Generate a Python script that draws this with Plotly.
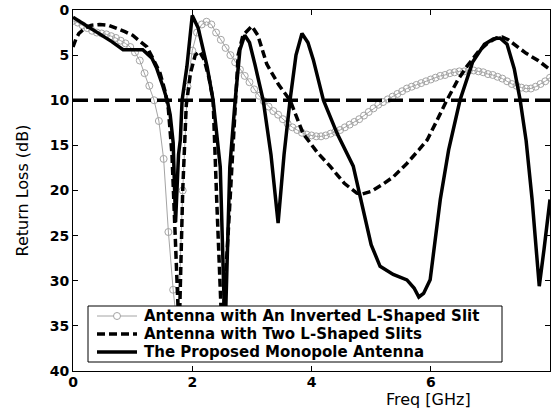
import plotly.graph_objects as go

# ---------------- data ----------------
# Antenna with An Inverted L-Shaped Slit (grey, circle markers)
f_inv = [round(0.08 * i, 2) for i in range(101)]
rl_inv = [1.2, 1.4, 1.7, 2.0, 2.3, 2.5, 2.6, 2.7, 2.9, 3.1,
          3.4, 3.7, 4.1, 4.7, 5.6, 7.0, 8.4, 10.0, 12.3, 16.5,
          24.6, 31.0, 36.0, 20.0, 8.5, 4.5, 2.5, 1.6, 1.3, 1.6,
          2.5, 3.3, 4.2, 5.0, 5.8, 6.6, 7.3, 8.0, 8.8, 9.5,
          10.1, 10.7, 11.2, 11.6, 12.1, 12.6, 13.0, 13.3, 13.6, 13.8,
          13.9, 14.0, 14.0, 13.9, 13.7, 13.5, 13.3, 13.0, 12.7, 12.4,
          12.1, 11.7, 11.3, 10.9, 10.5, 10.2, 9.9, 9.6, 9.3, 9.0,
          8.7, 8.5, 8.3, 8.1, 7.9, 7.7, 7.5, 7.3, 7.2, 7.0,
          6.9, 6.8, 6.8, 6.7, 6.7, 6.8, 6.9, 7.1, 7.2, 7.4,
          7.6, 7.9, 8.2, 8.4, 8.6, 8.7, 8.7, 8.5, 8.2, 7.9,
          7.5]

# Antenna with Two L-Shaped Slits (black dashed)
f_two = [0.0, 0.05, 0.1, 0.2, 0.3, 0.45, 0.6, 0.73, 0.87, 1.0, 1.12, 1.24, 1.35,
         1.46, 1.54, 1.6, 1.66, 1.72, 1.78, 1.84, 1.9, 1.97, 2.05, 2.12,
         2.2, 2.28, 2.35, 2.41, 2.5, 2.6, 2.69, 2.72, 2.77, 2.85, 3.0,
         3.1, 3.25, 3.45, 3.64, 3.86, 4.1, 4.31, 4.55, 4.76, 4.85, 5.0,
         5.2, 5.37, 5.6, 5.8, 5.94, 6.1, 6.27, 6.45, 6.6, 6.8, 6.95,
         7.1, 7.2, 7.3, 7.45, 7.6, 7.8, 7.95, 8.0]
rl_two = [4.1, 3.2, 2.6, 2.0, 1.7, 1.6, 1.7, 2.0, 2.4, 2.8, 3.4, 4.1, 5.5,
          7.0, 8.9, 11.0, 16.0, 25.0, 36.0, 20.0, 10.5, 7.0, 5.0, 4.6,
          5.5, 7.5, 10.0, 21.0, 36.0, 25.0, 14.0, 10.0, 5.0, 2.8, 1.8,
          2.8, 6.0, 8.3, 10.0, 13.7, 15.8, 17.3, 19.2, 20.3, 20.4, 20.1,
          19.3, 18.5, 17.0, 15.5, 14.4, 12.3, 10.0, 7.8, 6.3, 4.6, 3.7,
          3.1, 3.0, 3.3, 4.1, 4.8, 5.6, 6.3, 6.6]

# The Proposed Monopole Antenna (black solid)
f_prop = [0.0, 0.2, 0.45, 0.65, 0.84, 1.0, 1.17, 1.32, 1.4, 1.51, 1.58, 1.63,
          1.68, 1.72, 1.77, 1.8, 1.83, 1.91, 2.0, 2.1, 2.25, 2.35, 2.47,
          2.55, 2.63, 2.72, 2.8, 2.88, 2.96, 3.05, 3.19, 3.32, 3.44, 3.54,
          3.64, 3.74, 3.84, 3.94, 4.03, 4.2, 4.43, 4.7, 4.85, 5.0, 5.15,
          5.37, 5.6, 5.72, 5.8, 5.88, 5.99, 6.16, 6.3, 6.49, 6.7, 6.9,
          7.05, 7.16, 7.28, 7.4, 7.5, 7.6, 7.7, 7.82, 7.9, 8.0]
rl_prop = [0.8, 1.6, 2.6, 3.5, 4.4, 4.4, 4.4, 5.3, 6.4, 8.5, 10.0, 11.6,
           14.7, 23.5, 16.0, 14.4, 10.0, 6.3, 0.6, 2.0, 6.3, 10.0, 17.4,
           36.0, 17.4, 10.0, 4.4, 2.8, 3.6, 6.0, 10.0, 16.0, 23.6, 16.0,
           10.0, 5.0, 2.6, 3.6, 5.5, 10.0, 13.7, 17.3, 21.5, 26.0, 28.4,
           29.3, 29.9, 30.8, 31.8, 31.4, 29.9, 21.0, 15.5, 10.0, 5.8, 3.8,
           3.2, 3.1, 3.8, 6.5, 10.0, 14.5, 21.0, 30.6, 26.5, 21.0]

# -10 dB reference line
f_ref = [0.0, 8.0]
rl_ref = [10.0, 10.0]

x_ticks = [0, 2, 4, 6, 8]
y_ticks = [0, 5, 10, 15, 20, 25, 30, 35, 40]

names = ["Antenna with An Inverted L-Shaped Slit",
         "Antenna with Two L-Shaped Slits",
         "The Proposed Monopole Antenna"]

GREY = "#a4a4a4"

# ---------------- figure ----------------
fig = go.Figure()
fig.add_trace(go.Scatter(
    x=f_inv, y=rl_inv, mode="lines+markers", name=names[0],
    line=dict(color=GREY, width=1),
    marker=dict(symbol="circle-open", size=7, color=GREY,
                line=dict(width=1, color=GREY))))
fig.add_trace(go.Scatter(
    x=f_two, y=rl_two, mode="lines", name=names[1],
    line=dict(color="black", width=3.5, dash="8px,4px")))
fig.add_trace(go.Scatter(
    x=f_prop, y=rl_prop, mode="lines", name=names[2],
    line=dict(color="black", width=3.5)))
fig.add_trace(go.Scatter(
    x=f_ref, y=rl_ref, mode="lines", showlegend=False,
    line=dict(color="black", width=3.5, dash="15px,6px")))

PL, PR, PT, PB = 73, 2, 10, 38
W, H = 552, 409
pw, ph = W - PL - PR, H - PT - PB


def px_x(px):
    return (px - PL) / pw


def px_y(py):
    return (H - PB - py) / ph


tickfont = dict(family="DejaVu Sans", size=14, color="black", weight="bold")
legfont = dict(family="DejaVu Sans", size=15, color="black", weight="bold")

# ---- legend drawn as a box (shapes + text) ----
box = dict(x0=88, x1=502, y0=306, y1=362)
rows = [316, 334, 352]
shapes = [dict(type="rect", xref="paper", yref="paper", layer="above",
               x0=px_x(box["x0"]), x1=px_x(box["x1"]),
               y0=px_y(box["y1"]), y1=px_y(box["y0"]),
               fillcolor="white", line=dict(color="black", width=1))]
sample_styles = [dict(color=GREY, width=1),
                 dict(color="black", width=3.5, dash="8px,4px"),
                 dict(color="black", width=3.5)]
for r, st in zip(rows, sample_styles):
    shapes.append(dict(type="line", xref="paper", yref="paper", layer="above",
                       x0=px_x(97), x1=px_x(137), y0=px_y(r), y1=px_y(r),
                       line=st))
shapes.append(dict(type="circle", xref="paper", yref="paper", layer="above",
                   x0=px_x(113.5), x1=px_x(120.5),
                   y0=px_y(rows[0] + 3.5), y1=px_y(rows[0] - 3.5),
                   fillcolor="white", line=dict(color=GREY, width=1)))

annotations = [
    dict(text="Return Loss (dB)", textangle=-90, showarrow=False,
         xref="paper", yref="paper", x=px_x(22), y=0.5,
         xanchor="center", yanchor="middle",
         font=dict(family="DejaVu Sans", size=16, color="black")),
    dict(text="Freq [GHz]", showarrow=False,
         xref="paper", yref="paper", x=px_x(428), y=px_y(400),
         xanchor="center", yanchor="middle",
         font=dict(family="DejaVu Sans", size=16, color="black")),
]
for r, nm in zip(rows, names):
    annotations.append(dict(text=nm, showarrow=False, xref="paper", yref="paper",
                            x=px_x(142), y=px_y(r), xanchor="left",
                            yanchor="middle", font=legfont))

fig.update_layout(
    width=W, height=H,
    margin=dict(l=PL, r=PR, t=PT, b=PB),
    paper_bgcolor="white", plot_bgcolor="white",
    showlegend=False,
    xaxis=dict(
        range=[0, 8], tickvals=x_ticks, ticktext=[str(v) for v in x_ticks],
        ticks="inside", ticklen=5, tickcolor="black", mirror="ticks",
        showline=True, linecolor="black", linewidth=1,
        showgrid=False, zeroline=False, tickfont=tickfont,
        ticklabelstandoff=-2),
    yaxis=dict(
        range=[40, 0], tickvals=y_ticks, ticktext=[str(v) for v in y_ticks],
        ticks="inside", ticklen=5, tickcolor="black", mirror="ticks",
        showline=True, linecolor="black", linewidth=1,
        showgrid=False, zeroline=False, tickfont=tickfont),
    shapes=shapes,
    annotations=annotations,
)

fig.write_html("out.html")
